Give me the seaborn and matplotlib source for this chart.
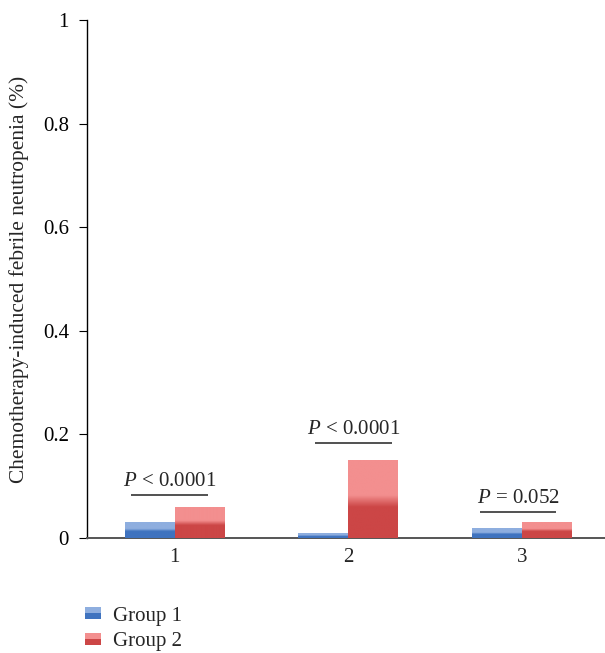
import numpy as np
import pandas as pd
import matplotlib
matplotlib.use("Agg")
import matplotlib.pyplot as plt
import seaborn as sns
from matplotlib.patches import Rectangle
from matplotlib.colors import LinearSegmentedColormap
from matplotlib.legend_handler import HandlerBase

categories = ["1", "2", "3"]
group1 = [0.031, 0.009, 0.019]
group2 = [0.060, 0.150, 0.031]
groups = ["Group 1", "Group 2"]
p_labels = ["< 0.0001", "< 0.0001", "= 0.052"]
p_heights = [0.083, 0.183, 0.050]
p_offsets = [-0.03, 0.03, -0.02]
y_ticks = [0, 0.2, 0.4, 0.6, 0.8, 1]
y_ticklabels = ["0", "0.2", "0.4", "0.6", "0.8", "1"]
ylabel = "Chemotherapy-induced febrile neutropenia (%)"

light = {"Group 1": "#8eaedf", "Group 2": "#f38f8f"}
dark = {"Group 1": "#3f73bf", "Group 2": "#cc4646"}

df = pd.DataFrame({
    "cat": categories * 2,
    "val": group1 + group2,
    "grp": [groups[0]] * 3 + [groups[1]] * 3,
})

sns.set_style("white")
plt.rcParams["font.family"] = ["Liberation Serif", "DejaVu Serif"]
plt.rcParams["mathtext.fontset"] = "custom"
plt.rcParams["mathtext.it"] = "Liberation Serif:italic"
plt.rcParams["mathtext.rm"] = "Liberation Serif"

fig = plt.figure(figsize=(6.05, 6.53), dpi=100)
ax = fig.add_axes([0.1438, 0.1761, 0.8562, 0.7933])

sns.barplot(data=df, x="cat", y="val", hue="grp", order=categories,
            hue_order=groups, palette=light, width=0.575, gap=0,
            linewidth=0, errorbar=None, ax=ax, legend=False)


def make_cmap(g):
    return LinearSegmentedColormap.from_list(
        g, [(0, dark[g]), (0.40, dark[g]), (0.55, light[g]), (1, light[g])])


for container, g in zip(ax.containers, groups):
    cmap = make_cmap(g)
    for patch in container:
        x0, y0 = patch.get_x(), patch.get_y()
        w, h = patch.get_width(), patch.get_height()
        grad = np.linspace(0, 1, 256).reshape(-1, 1)
        im = ax.imshow(grad, cmap=cmap, aspect="auto", origin="lower",
                       extent=(x0, x0 + w, y0, y0 + h), zorder=3,
                       interpolation="bilinear")
        im.set_clip_path(patch)

ax.set_xlim(-0.505, 2.48)
ax.set_ylim(0, 1)
ax.set_yticks(y_ticks)
ax.set_yticklabels(y_ticklabels)
ax.set_xlabel("")
ax.set_ylabel(ylabel, fontsize=15.4, labelpad=10)
ax.tick_params(axis="y", direction="out", length=6, width=0.8, colors="black",
               labelsize=15, pad=7, left=True)
ax.tick_params(axis="x", length=0, labelsize=15, pad=7)
for s in ["top", "right"]:
    ax.spines[s].set_visible(False)
ax.spines["left"].set_color("black")
ax.spines["left"].set_linewidth(1.0)
ax.spines["bottom"].set_color("#555555")
ax.spines["bottom"].set_linewidth(1.4)

for i, (lab, h, off) in enumerate(zip(p_labels, p_heights, p_offsets)):
    c = i + off
    ax.plot([c - 0.22, c + 0.22], [h, h], color="#333333", lw=1.2,
            solid_capstyle="butt")
    ax.text(c, h + 0.008, r"$\it{P}$ " + lab, ha="center", va="bottom",
            fontsize=15)


class GradHandler(HandlerBase):
    def __init__(self, g):
        super().__init__()
        self.g = g

    def create_artists(self, legend, orig_handle, xdescent, ydescent,
                       width, height, fontsize, trans):
        w = 11.5
        h = 8.6
        x = -xdescent
        y = -ydescent + (height - h) / 2
        r1 = Rectangle((x, y + h * 0.5), w, h * 0.5, facecolor=light[self.g],
                       edgecolor="none", transform=trans)
        r2 = Rectangle((x, y), w, h * 0.5, facecolor=dark[self.g],
                       edgecolor="none", transform=trans)
        return [r1, r2]


handles = [Rectangle((0, 0), 1, 1) for _ in groups]
fig.legend(handles, groups, loc="upper left", bbox_to_anchor=(0.14, 0.072),
           frameon=False, fontsize=15, handlelength=0.77, handletextpad=0.6,
           labelspacing=0.3, borderaxespad=0, borderpad=0,
           handler_map={h: GradHandler(g) for h, g in zip(handles, groups)})

fig.savefig("out.png", dpi=100)
